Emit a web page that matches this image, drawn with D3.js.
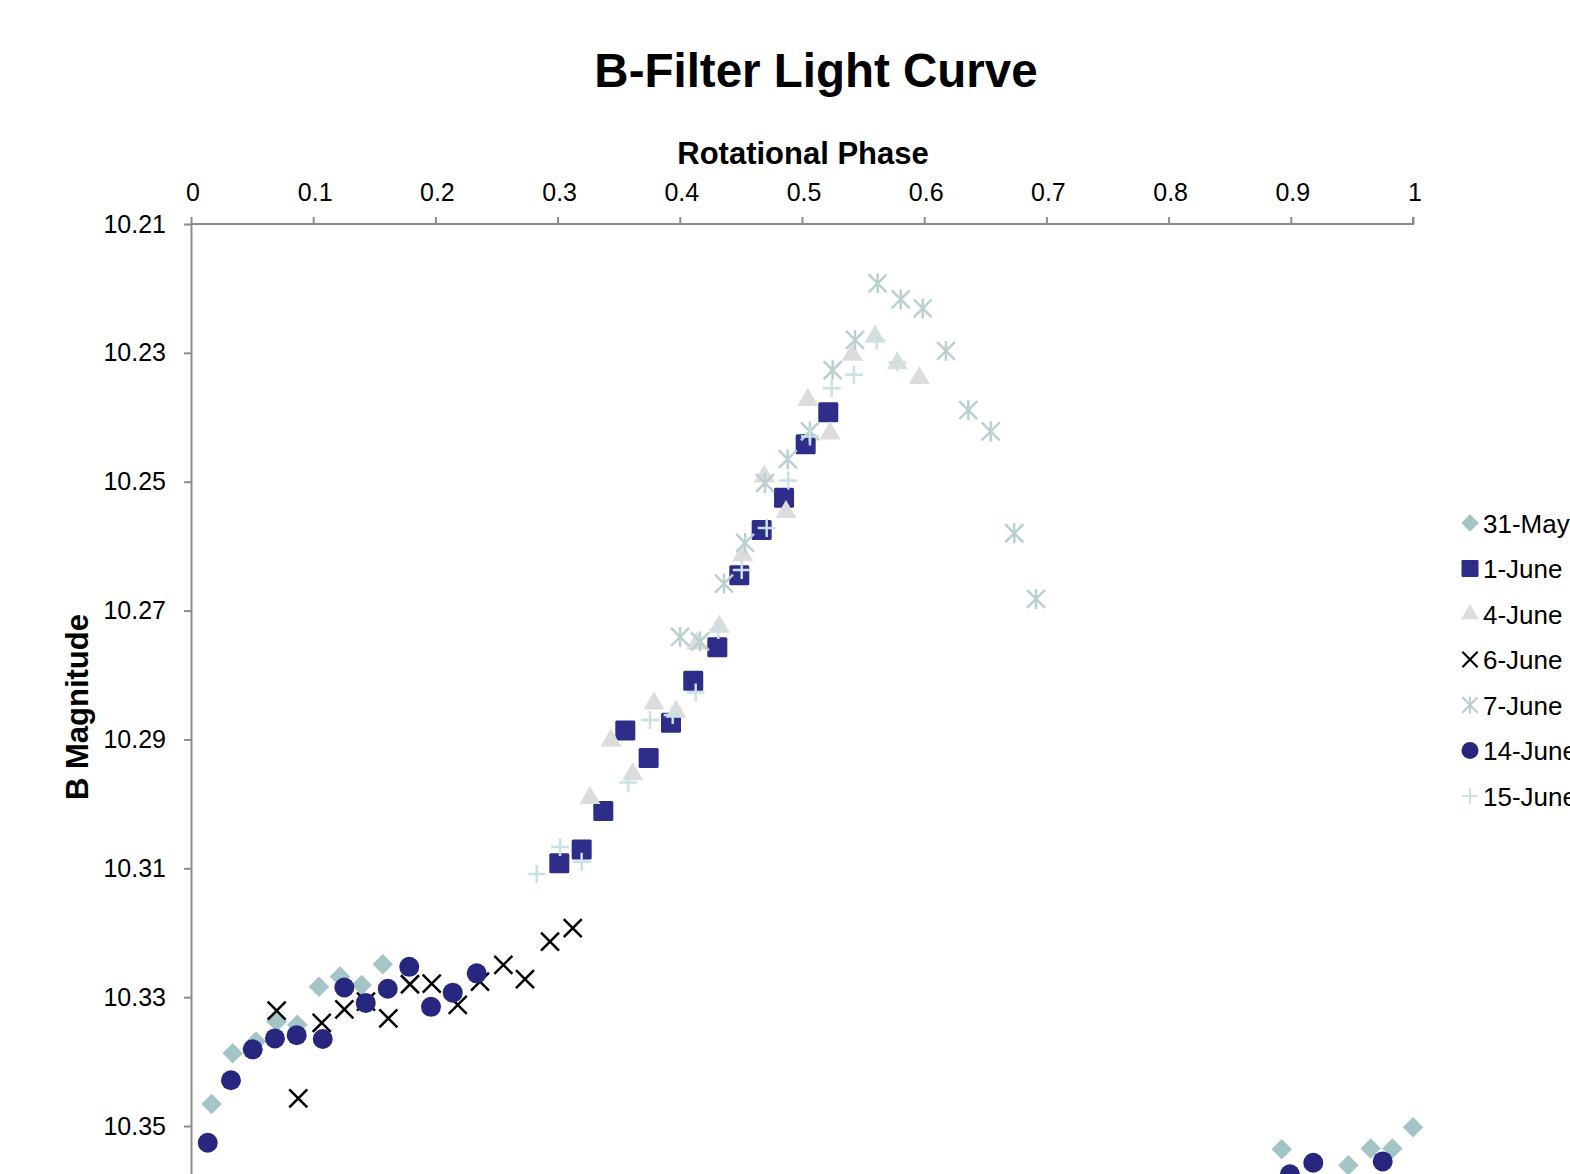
<!DOCTYPE html>
<html>
<head>
<meta charset="utf-8">
<script src="https://cdn.jsdelivr.net/npm/d3@7"></script>
<style>
  body { margin: 0; background: #fff; overflow: hidden; }
  svg { font-family: "Liberation Sans", Arial, sans-serif; }
  .axis path, .axis line { stroke: #8c8c8c; stroke-width: 2; }
  .axis text { fill: #000; font-size: 25px; }
</style>
</head>
<body>
<div id="chart-area"><svg></svg></div>
<script>
// [phase, B magnitude] pairs per night
const may31 = [[0.0169, 10.3466], [0.0341, 10.3387], [0.0532, 10.3369], [0.0701, 10.3338], [0.087, 10.3343],
  [0.1047, 10.3284], [0.1219, 10.3268], [0.1397, 10.3281], [0.1569, 10.3249], [0.8926, 10.3536],
  [0.9471, 10.3561], [0.9654, 10.3535], [0.9831, 10.3535], [1.0, 10.3502]];
const june1 = [[0.3014, 10.3092], [0.3197, 10.3071], [0.3374, 10.3011], [0.3554, 10.2886], [0.3745, 10.2929],
  [0.3928, 10.2874], [0.411, 10.2809], [0.4307, 10.2757], [0.4487, 10.2645], [0.467, 10.2575],
  [0.4853, 10.2525], [0.503, 10.2442], [0.5215, 10.2392]];
const june4 = [[0.3265, 10.2991], [0.3437, 10.2902], [0.3615, 10.2954], [0.3789, 10.2844], [0.3969, 10.2857],
  [0.4138, 10.2751], [0.4323, 10.2725], [0.4515, 10.2614], [0.4692, 10.2492], [0.4869, 10.2547],
  [0.5047, 10.2373], [0.5229, 10.2425], [0.5412, 10.2303], [0.5597, 10.2275], [0.578, 10.2316], [0.596, 10.2339]];
const june6 = [[0.0701, 10.3321], [0.0878, 10.3457], [0.107, 10.334], [0.1255, 10.3319], [0.1432, 10.3307],
  [0.1615, 10.3333], [0.1792, 10.328], [0.197, 10.3279], [0.2183, 10.3312], [0.2365, 10.3276],
  [0.2556, 10.325], [0.2733, 10.3272], [0.2938, 10.3214], [0.3124, 10.3193]];
const june7 = [[0.4002, 10.2741], [0.4165, 10.2748], [0.4362, 10.2658], [0.4534, 10.2595], [0.4697, 10.2502],
  [0.4883, 10.2465], [0.5065, 10.2422], [0.5251, 10.2327], [0.5434, 10.228], [0.5619, 10.2192],
  [0.5808, 10.2217], [0.5988, 10.2231], [0.6178, 10.2297], [0.6361, 10.2389], [0.6544, 10.2422],
  [0.6737, 10.258], [0.6915, 10.2682]];
const june14 = [[0.0137, 10.3526], [0.0327, 10.3429], [0.0505, 10.3381], [0.0687, 10.3364], [0.0865, 10.3359],
  [0.1078, 10.3365], [0.1255, 10.3285], [0.143, 10.3309], [0.161, 10.3287], [0.1786, 10.3253],
  [0.1964, 10.3315], [0.2142, 10.3293], [0.2338, 10.3263], [0.8993, 10.3575], [0.9184, 10.3557],
  [0.9752, 10.3555]];
const june15 = [[0.2829, 10.3109], [0.302, 10.3067], [0.3197, 10.309], [0.3579, 10.2967], [0.3756, 10.287],
  [0.3942, 10.2862], [0.413, 10.2827], [0.4315, 10.273], [0.4507, 10.2637], [0.4711, 10.2572],
  [0.4888, 10.2498], [0.5065, 10.243], [0.5243, 10.2355], [0.5425, 10.2334], [0.5611, 10.228],
  [0.578, 10.2315]];

const seriesNames = ['31-May', '1-June', '4-June', '6-June', '7-June', '14-June', '15-June'];
const seriesData = [may31, june1, june4, june6, june7, june14, june15];
const xTicks = [0, 0.1, 0.2, 0.3, 0.4, 0.5, 0.6, 0.7, 0.8, 0.9, 1];
const yTicks = [10.21, 10.23, 10.25, 10.27, 10.29, 10.31, 10.33, 10.35];

const chartSize = { width: 1570, height: 1174 };
const plot = { left: 191, right: 1413, top: 224 };
const pxPerMag = 902 / 0.14;

// marker style per series
const styles = [
  { kind: 'diamond', fill: '#a3c5c8' },
  { kind: 'square', fill: '#2e2e8a' },
  { kind: 'triangle', fill: '#dcdcdc' },
  { kind: 'x', stroke: '#000000' },
  { kind: 'star', stroke: '#bad0d1' },
  { kind: 'circle', fill: '#27277f' },
  { kind: 'plus', stroke: '#c8e2e5' }
];

const r = 9;
const linePaths = {
  x: `M${-r},${-r}L${r},${r}M${-r},${r}L${r},${-r}`,
  star: `M${-r},${-r}L${r},${r}M${-r},${r}L${r},${-r}M0,${-r - 1}L0,${r + 1}`,
  plus: `M${-r},0L${r},0M0,${-r}L0,${r}`
};

const drawMarker = (sel, style) => {
  if (style.kind === 'diamond') {
    sel.append('path').attr('d', d3.symbol(d3.symbolSquare, 210)()).attr('transform', 'rotate(45)').attr('fill', style.fill);
  } else if (style.kind === 'square') {
    sel.append('rect').attr('x', -10).attr('y', -10).attr('width', 20).attr('height', 20)
      .attr('rx', 1.5).attr('fill', style.fill);
  } else if (style.kind === 'triangle') {
    sel.append('path').attr('d', d3.symbol(d3.symbolTriangle, 190)()).attr('fill', style.fill);
  } else if (style.kind === 'circle') {
    sel.append('circle').attr('r', 10).attr('fill', style.fill);
  } else {
    sel.append('path').attr('d', linePaths[style.kind]).attr('fill', 'none')
      .attr('stroke', style.stroke).attr('stroke-width', 2.5);
  }
};

const drawChart = () => {
  const svg = d3.select('#chart-area svg')
    .attr('width', chartSize.width)
    .attr('height', chartSize.height);

  const x = d3.scaleLinear().domain([0, 1]).range([plot.left, plot.right]);
  const y = d3.scaleLinear().domain([10.21, 10.37]).range([plot.top, plot.top + 0.16 * pxPerMag]);

  svg.append('text')
    .attr('x', 816).attr('y', 87)
    .attr('text-anchor', 'middle')
    .attr('font-size', 47.5).attr('font-weight', 'bold')
    .text('B-Filter Light Curve');

  svg.append('text')
    .attr('x', (plot.left + plot.right) / 2 + 1).attr('y', 164)
    .attr('text-anchor', 'middle')
    .attr('font-size', 31).attr('font-weight', 'bold')
    .text('Rotational Phase');

  svg.append('text')
    .attr('transform', 'translate(88,707) rotate(-90)')
    .attr('text-anchor', 'middle')
    .attr('font-size', 31).attr('font-weight', 'bold')
    .text('B Magnitude');

  const xAxis = d3.axisTop(x).tickValues(xTicks).tickFormat(d3.format('')).tickSize(7).tickSizeOuter(0).tickPadding(16);
  const yAxis = d3.axisLeft(y).tickValues(yTicks).tickFormat(d3.format('.2f')).tickSize(7).tickSizeOuter(0).tickPadding(18);

  svg.append('g').attr('class', 'axis y-axis')
    .attr('transform', `translate(${plot.left},0)`)
    .call(yAxis);
  svg.append('g').attr('class', 'axis x-axis')
    .attr('transform', `translate(0,${plot.top})`)
    .call(xAxis);
  svg.selectAll('.x-axis .domain').attr('d', `M${plot.left},0H${plot.right}V-7`);
  svg.selectAll('.x-axis .tick text').attr('dx', 1.5);

  seriesData.forEach((data, i) => {
    const g = svg.append('g').attr('class', 'series');
    g.selectAll('g')
      .data(data)
      .enter()
      .append('g')
      .attr('transform', d => `translate(${x(d[0])},${y(d[1])})`)
      .each(function () { drawMarker(d3.select(this), styles[i]); });
  });

  // legend sits partly past the right edge, as in the source
  const legend = svg.append('g')
    .selectAll('g')
    .data(seriesNames)
    .enter()
    .append('g')
    .attr('transform', (d, i) => `translate(1470,${523 + i * 45.5})`);
  legend.each(function (d, i) {
    const m = d3.select(this).append('g').attr('transform', 'scale(0.85)');
    drawMarker(m, styles[i]);
  });
  legend.append('text')
    .attr('x', 13).attr('y', 9.5)
    .attr('font-size', 26)
    .text(d => d);
};

window.onload = drawChart;
</script>
</body>
</html>
